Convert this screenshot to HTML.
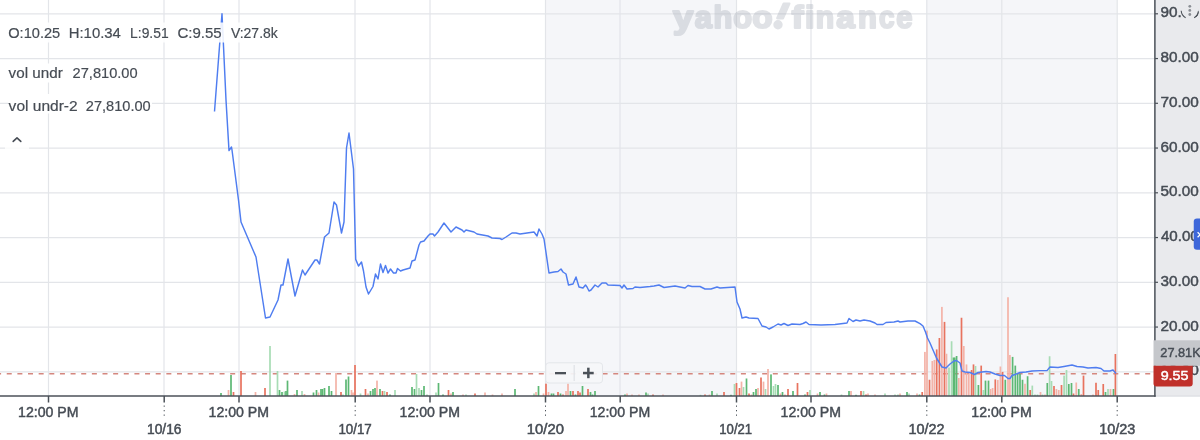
<!DOCTYPE html>
<html><head><meta charset="utf-8"><style>
html,body{margin:0;padding:0;width:1200px;height:440px;overflow:hidden;background:#fff;}
body{position:relative;font-family:"Liberation Sans",sans-serif;}
</style></head><body>
<svg width="1200" height="440" viewBox="0 0 1200 440" style="position:absolute;left:0;top:0;will-change:transform">
<rect x="545.5" y="0" width="191" height="396" fill="#f5f6f9"/>
<rect x="926.8" y="0" width="190.4" height="396" fill="#f5f6f9"/>
<line x1="0" y1="13.8" x2="1155" y2="13.8" stroke="#e3e5e9" stroke-width="1.2"/>
<line x1="0" y1="58.55" x2="1155" y2="58.55" stroke="#e3e5e9" stroke-width="1.2"/>
<line x1="0" y1="103.3" x2="1155" y2="103.3" stroke="#e3e5e9" stroke-width="1.2"/>
<line x1="0" y1="148.05" x2="1155" y2="148.05" stroke="#e3e5e9" stroke-width="1.2"/>
<line x1="0" y1="192.8" x2="1155" y2="192.8" stroke="#e3e5e9" stroke-width="1.2"/>
<line x1="0" y1="237.55" x2="1155" y2="237.55" stroke="#e3e5e9" stroke-width="1.2"/>
<line x1="0" y1="282.3" x2="1155" y2="282.3" stroke="#e3e5e9" stroke-width="1.2"/>
<line x1="0" y1="327.05" x2="1155" y2="327.05" stroke="#e3e5e9" stroke-width="1.2"/>
<line x1="0" y1="371.8" x2="1155" y2="371.8" stroke="#e3e5e9" stroke-width="1.2"/>
<line x1="48.5" y1="0" x2="48.5" y2="396" stroke="#e3e5e9" stroke-width="1.2"/>
<line x1="164" y1="0" x2="164" y2="396" stroke="#e3e5e9" stroke-width="1.2"/>
<line x1="239" y1="0" x2="239" y2="396" stroke="#e3e5e9" stroke-width="1.2"/>
<line x1="355" y1="0" x2="355" y2="396" stroke="#e3e5e9" stroke-width="1.2"/>
<line x1="430" y1="0" x2="430" y2="396" stroke="#e3e5e9" stroke-width="1.2"/>
<line x1="545.5" y1="0" x2="545.5" y2="396" stroke="#e3e5e9" stroke-width="1.2"/>
<line x1="620" y1="0" x2="620" y2="396" stroke="#e3e5e9" stroke-width="1.2"/>
<line x1="736.5" y1="0" x2="736.5" y2="396" stroke="#e3e5e9" stroke-width="1.2"/>
<line x1="811" y1="0" x2="811" y2="396" stroke="#e3e5e9" stroke-width="1.2"/>
<line x1="926.8" y1="0" x2="926.8" y2="396" stroke="#e3e5e9" stroke-width="1.2"/>
<line x1="1001.8" y1="0" x2="1001.8" y2="396" stroke="#e3e5e9" stroke-width="1.2"/>
<line x1="1117.2" y1="0" x2="1117.2" y2="396" stroke="#e3e5e9" stroke-width="1.2"/>
<g opacity="0.36" fill="#aab0ba" stroke="#aab0ba" stroke-width="2.2" stroke-linejoin="round" style="font-variant-ligatures:none">
<text x="673.04" y="27.70" font-family="Liberation Sans" font-weight="bold" font-size="31.5" fill="#aab0ba" textLength="20.29" lengthAdjust="spacingAndGlyphs" >y</text>
<text x="694.77" y="27.70" font-family="Liberation Sans" font-weight="bold" font-size="31.5" fill="#aab0ba" textLength="17.15" lengthAdjust="spacingAndGlyphs" >a</text>
<text x="713.54" y="27.70" font-family="Liberation Sans" font-weight="bold" font-size="31.5" fill="#aab0ba" textLength="18.83" lengthAdjust="spacingAndGlyphs" >h</text>
<text x="733.37" y="27.70" font-family="Liberation Sans" font-weight="bold" font-size="31.5" fill="#aab0ba" textLength="18.79" lengthAdjust="spacingAndGlyphs" >o</text>
<text x="752.37" y="27.70" font-family="Liberation Sans" font-weight="bold" font-size="31.5" fill="#aab0ba" textLength="20.29" lengthAdjust="spacingAndGlyphs" >o</text>
<text x="791.78" y="27.70" font-family="Liberation Sans" font-weight="bold" font-size="31.5" fill="#aab0ba" textLength="11.66" lengthAdjust="spacingAndGlyphs" >f</text>
<text x="805.10" y="27.70" font-family="Liberation Sans" font-weight="bold" font-size="31.5" fill="#aab0ba" textLength="9.52" lengthAdjust="spacingAndGlyphs" >i</text>
<text x="815.84" y="27.70" font-family="Liberation Sans" font-weight="bold" font-size="31.5" fill="#aab0ba" textLength="18.39" lengthAdjust="spacingAndGlyphs" >n</text>
<text x="836.30" y="27.70" font-family="Liberation Sans" font-weight="bold" font-size="31.5" fill="#aab0ba" textLength="18.50" lengthAdjust="spacingAndGlyphs" >a</text>
<text x="858.09" y="27.70" font-family="Liberation Sans" font-weight="bold" font-size="31.5" fill="#aab0ba" textLength="18.89" lengthAdjust="spacingAndGlyphs" >n</text>
<text x="878.99" y="27.70" font-family="Liberation Sans" font-weight="bold" font-size="31.5" fill="#aab0ba" textLength="15.48" lengthAdjust="spacingAndGlyphs" >c</text>
<text x="896.23" y="27.70" font-family="Liberation Sans" font-weight="bold" font-size="31.5" fill="#aab0ba" textLength="16.22" lengthAdjust="spacingAndGlyphs" >e</text>
<path d="M783.6,3.6 L789.4,3.6 L783,18.3 L777.2,18.3 Z"/>
<circle cx="778" cy="24.7" r="3.6"/>
</g>
<line x1="-3.9" y1="373.75" x2="1155" y2="373.75" stroke="#d5877f" stroke-width="1.5" stroke-dasharray="5 5.64"/>
<rect x="220.15" y="393.00" width="1.7" height="3.00" fill="#5db874"/>
<rect x="227.65" y="390.00" width="1.7" height="6.00" fill="#f4b3a8"/>
<rect x="230.15" y="375.00" width="1.7" height="21.00" fill="#5db874"/>
<rect x="232.65" y="392.00" width="1.7" height="4.00" fill="#e8735f"/>
<rect x="240.15" y="371.00" width="1.7" height="25.00" fill="#e8735f"/>
<rect x="254.65" y="392.00" width="1.7" height="4.00" fill="#f4b3a8"/>
<rect x="264.15" y="388.00" width="1.7" height="8.00" fill="#e8735f"/>
<rect x="269.15" y="346.00" width="1.7" height="50.00" fill="#a8dcb5"/>
<rect x="276.65" y="371.00" width="1.7" height="25.00" fill="#a8dcb5"/>
<rect x="278.65" y="390.00" width="1.7" height="6.00" fill="#5db874"/>
<rect x="281.15" y="392.00" width="1.7" height="4.00" fill="#5db874"/>
<rect x="283.65" y="391.50" width="1.7" height="4.50" fill="#a8dcb5"/>
<rect x="285.15" y="391.00" width="1.7" height="5.00" fill="#5db874"/>
<rect x="286.65" y="380.60" width="1.7" height="15.40" fill="#5db874"/>
<rect x="293.65" y="394.00" width="1.7" height="2.00" fill="#f4b3a8"/>
<rect x="296.15" y="390.00" width="1.7" height="6.00" fill="#5db874"/>
<rect x="301.15" y="391.00" width="1.7" height="5.00" fill="#a8dcb5"/>
<rect x="303.65" y="394.00" width="1.7" height="2.00" fill="#f4b3a8"/>
<rect x="312.65" y="392.50" width="1.7" height="3.50" fill="#5db874"/>
<rect x="315.65" y="390.00" width="1.7" height="6.00" fill="#5db874"/>
<rect x="317.65" y="392.50" width="1.7" height="3.50" fill="#f4b3a8"/>
<rect x="320.15" y="389.00" width="1.7" height="7.00" fill="#5db874"/>
<rect x="321.65" y="389.00" width="1.7" height="7.00" fill="#5db874"/>
<rect x="323.65" y="388.00" width="1.7" height="8.00" fill="#5db874"/>
<rect x="328.15" y="386.00" width="1.7" height="10.00" fill="#5db874"/>
<rect x="330.65" y="391.00" width="1.7" height="5.00" fill="#5db874"/>
<rect x="335.15" y="373.00" width="1.7" height="23.00" fill="#f4b3a8"/>
<rect x="340.15" y="392.00" width="1.7" height="4.00" fill="#e8735f"/>
<rect x="342.15" y="394.50" width="1.7" height="1.50" fill="#a8dcb5"/>
<rect x="345.15" y="379.50" width="1.7" height="16.50" fill="#5db874"/>
<rect x="347.65" y="376.50" width="1.7" height="19.50" fill="#5db874"/>
<rect x="350.65" y="390.00" width="1.7" height="6.00" fill="#f4b3a8"/>
<rect x="352.15" y="392.50" width="1.7" height="3.50" fill="#f4b3a8"/>
<rect x="354.15" y="365.00" width="1.7" height="31.00" fill="#e8735f"/>
<rect x="359.65" y="393.50" width="1.7" height="2.50" fill="#a8dcb5"/>
<rect x="364.65" y="389.00" width="1.7" height="7.00" fill="#e8735f"/>
<rect x="367.15" y="393.50" width="1.7" height="2.50" fill="#f4b3a8"/>
<rect x="369.65" y="391.00" width="1.7" height="5.00" fill="#5db874"/>
<rect x="372.15" y="389.00" width="1.7" height="7.00" fill="#5db874"/>
<rect x="374.15" y="388.00" width="1.7" height="8.00" fill="#5db874"/>
<rect x="376.15" y="380.60" width="1.7" height="15.40" fill="#f4b3a8"/>
<rect x="379.15" y="389.00" width="1.7" height="7.00" fill="#5db874"/>
<rect x="381.65" y="391.00" width="1.7" height="5.00" fill="#e8735f"/>
<rect x="383.65" y="391.00" width="1.7" height="5.00" fill="#a8dcb5"/>
<rect x="386.15" y="392.00" width="1.7" height="4.00" fill="#e8735f"/>
<rect x="389.15" y="394.50" width="1.7" height="1.50" fill="#5db874"/>
<rect x="394.15" y="390.00" width="1.7" height="6.00" fill="#a8dcb5"/>
<rect x="411.15" y="387.00" width="1.7" height="9.00" fill="#5db874"/>
<rect x="413.65" y="389.00" width="1.7" height="7.00" fill="#5db874"/>
<rect x="415.65" y="374.00" width="1.7" height="22.00" fill="#a8dcb5"/>
<rect x="418.15" y="388.00" width="1.7" height="8.00" fill="#a8dcb5"/>
<rect x="420.65" y="390.00" width="1.7" height="6.00" fill="#5db874"/>
<rect x="423.15" y="386.00" width="1.7" height="10.00" fill="#5db874"/>
<rect x="426.15" y="394.50" width="1.7" height="1.50" fill="#a8dcb5"/>
<rect x="435.15" y="392.50" width="1.7" height="3.50" fill="#a8dcb5"/>
<rect x="437.65" y="383.00" width="1.7" height="13.00" fill="#5db874"/>
<rect x="442.15" y="394.50" width="1.7" height="1.50" fill="#5db874"/>
<rect x="447.65" y="390.00" width="1.7" height="6.00" fill="#e8735f"/>
<rect x="450.15" y="393.50" width="1.7" height="2.50" fill="#f4b3a8"/>
<rect x="452.15" y="392.00" width="1.7" height="4.00" fill="#5db874"/>
<rect x="462.15" y="394.50" width="1.7" height="1.50" fill="#f4b3a8"/>
<rect x="465.15" y="394.50" width="1.7" height="1.50" fill="#a8dcb5"/>
<rect x="474.15" y="393.50" width="1.7" height="2.50" fill="#e8735f"/>
<rect x="484.15" y="392.50" width="1.7" height="3.50" fill="#f4b3a8"/>
<rect x="491.65" y="394.50" width="1.7" height="1.50" fill="#f4b3a8"/>
<rect x="501.15" y="393.50" width="1.7" height="2.50" fill="#f4b3a8"/>
<rect x="514.15" y="389.00" width="1.7" height="7.00" fill="#5db874"/>
<rect x="533.15" y="393.50" width="1.7" height="2.50" fill="#a8dcb5"/>
<rect x="535.15" y="392.00" width="1.7" height="4.00" fill="#f4b3a8"/>
<rect x="537.65" y="386.00" width="1.7" height="10.00" fill="#5db874"/>
<rect x="542.65" y="393.50" width="1.7" height="2.50" fill="#f4b3a8"/>
<rect x="545.15" y="383.70" width="1.7" height="12.30" fill="#e8735f"/>
<rect x="547.65" y="392.00" width="1.7" height="4.00" fill="#f4b3a8"/>
<rect x="550.65" y="393.50" width="1.7" height="2.50" fill="#5db874"/>
<rect x="552.65" y="393.50" width="1.7" height="2.50" fill="#5db874"/>
<rect x="557.15" y="392.00" width="1.7" height="4.00" fill="#e8735f"/>
<rect x="559.65" y="393.50" width="1.7" height="2.50" fill="#5db874"/>
<rect x="562.15" y="394.50" width="1.7" height="1.50" fill="#e8735f"/>
<rect x="565.15" y="391.00" width="1.7" height="5.00" fill="#f4b3a8"/>
<rect x="567.15" y="383.70" width="1.7" height="12.30" fill="#f4b3a8"/>
<rect x="569.65" y="391.00" width="1.7" height="5.00" fill="#5db874"/>
<rect x="572.15" y="391.00" width="1.7" height="5.00" fill="#e8735f"/>
<rect x="574.65" y="394.50" width="1.7" height="1.50" fill="#5db874"/>
<rect x="577.15" y="391.00" width="1.7" height="5.00" fill="#e8735f"/>
<rect x="579.15" y="392.50" width="1.7" height="3.50" fill="#e8735f"/>
<rect x="581.65" y="386.00" width="1.7" height="10.00" fill="#5db874"/>
<rect x="587.15" y="389.00" width="1.7" height="7.00" fill="#e8735f"/>
<rect x="589.65" y="392.00" width="1.7" height="4.00" fill="#5db874"/>
<rect x="591.65" y="394.50" width="1.7" height="1.50" fill="#5db874"/>
<rect x="594.15" y="391.00" width="1.7" height="5.00" fill="#5db874"/>
<rect x="624.15" y="394.50" width="1.7" height="1.50" fill="#5db874"/>
<rect x="626.15" y="393.50" width="1.7" height="2.50" fill="#f4b3a8"/>
<rect x="631.15" y="394.50" width="1.7" height="1.50" fill="#f4b3a8"/>
<rect x="638.15" y="394.50" width="1.7" height="1.50" fill="#f4b3a8"/>
<rect x="645.15" y="392.50" width="1.7" height="3.50" fill="#5db874"/>
<rect x="647.15" y="393.50" width="1.7" height="2.50" fill="#a8dcb5"/>
<rect x="652.15" y="394.50" width="1.7" height="1.50" fill="#e8735f"/>
<rect x="662.15" y="394.50" width="1.7" height="1.50" fill="#f4b3a8"/>
<rect x="699.65" y="394.80" width="1.7" height="1.20" fill="#a8dcb5"/>
<rect x="704.15" y="394.50" width="1.7" height="1.50" fill="#e8735f"/>
<rect x="708.65" y="394.50" width="1.7" height="1.50" fill="#f4b3a8"/>
<rect x="711.15" y="391.00" width="1.7" height="5.00" fill="#5db874"/>
<rect x="716.15" y="393.50" width="1.7" height="2.50" fill="#a8dcb5"/>
<rect x="723.15" y="392.00" width="1.7" height="4.00" fill="#e8735f"/>
<rect x="730.15" y="394.80" width="1.7" height="1.20" fill="#5db874"/>
<rect x="733.65" y="384.00" width="1.7" height="12.00" fill="#a8dcb5"/>
<rect x="735.65" y="383.00" width="1.7" height="13.00" fill="#e8735f"/>
<rect x="738.65" y="388.00" width="1.7" height="8.00" fill="#e8735f"/>
<rect x="740.65" y="381.60" width="1.7" height="14.40" fill="#f4b3a8"/>
<rect x="742.65" y="387.00" width="1.7" height="9.00" fill="#a8dcb5"/>
<rect x="745.65" y="378.50" width="1.7" height="17.50" fill="#5db874"/>
<rect x="748.15" y="393.50" width="1.7" height="2.50" fill="#e8735f"/>
<rect x="750.65" y="394.50" width="1.7" height="1.50" fill="#f4b3a8"/>
<rect x="752.65" y="392.00" width="1.7" height="4.00" fill="#5db874"/>
<rect x="755.15" y="389.00" width="1.7" height="7.00" fill="#5db874"/>
<rect x="757.15" y="388.00" width="1.7" height="8.00" fill="#f4b3a8"/>
<rect x="760.15" y="377.50" width="1.7" height="18.50" fill="#e8735f"/>
<rect x="762.65" y="381.60" width="1.7" height="14.40" fill="#f4b3a8"/>
<rect x="764.65" y="389.00" width="1.7" height="7.00" fill="#a8dcb5"/>
<rect x="767.15" y="369.00" width="1.7" height="27.00" fill="#f4b3a8"/>
<rect x="770.15" y="374.40" width="1.7" height="21.60" fill="#5db874"/>
<rect x="772.65" y="386.00" width="1.7" height="10.00" fill="#a8dcb5"/>
<rect x="774.65" y="384.00" width="1.7" height="12.00" fill="#a8dcb5"/>
<rect x="777.15" y="385.00" width="1.7" height="11.00" fill="#5db874"/>
<rect x="779.65" y="393.50" width="1.7" height="2.50" fill="#f4b3a8"/>
<rect x="781.65" y="392.00" width="1.7" height="4.00" fill="#5db874"/>
<rect x="784.15" y="394.50" width="1.7" height="1.50" fill="#f4b3a8"/>
<rect x="787.15" y="389.00" width="1.7" height="7.00" fill="#e8735f"/>
<rect x="792.15" y="391.00" width="1.7" height="5.00" fill="#5db874"/>
<rect x="796.65" y="383.00" width="1.7" height="13.00" fill="#e8735f"/>
<rect x="804.15" y="394.50" width="1.7" height="1.50" fill="#5db874"/>
<rect x="806.65" y="392.00" width="1.7" height="4.00" fill="#e8735f"/>
<rect x="809.15" y="390.00" width="1.7" height="6.00" fill="#a8dcb5"/>
<rect x="816.65" y="393.50" width="1.7" height="2.50" fill="#f4b3a8"/>
<rect x="819.15" y="392.00" width="1.7" height="4.00" fill="#5db874"/>
<rect x="823.65" y="394.50" width="1.7" height="1.50" fill="#5db874"/>
<rect x="825.65" y="393.50" width="1.7" height="2.50" fill="#f4b3a8"/>
<rect x="840.65" y="394.50" width="1.7" height="1.50" fill="#a8dcb5"/>
<rect x="848.15" y="391.00" width="1.7" height="5.00" fill="#5db874"/>
<rect x="850.15" y="391.00" width="1.7" height="5.00" fill="#f4b3a8"/>
<rect x="855.15" y="394.80" width="1.7" height="1.20" fill="#5db874"/>
<rect x="860.15" y="391.00" width="1.7" height="5.00" fill="#e8735f"/>
<rect x="862.65" y="391.00" width="1.7" height="5.00" fill="#a8dcb5"/>
<rect x="865.15" y="394.50" width="1.7" height="1.50" fill="#e8735f"/>
<rect x="867.15" y="393.50" width="1.7" height="2.50" fill="#f4b3a8"/>
<rect x="874.15" y="394.50" width="1.7" height="1.50" fill="#f4b3a8"/>
<rect x="884.15" y="393.50" width="1.7" height="2.50" fill="#a8dcb5"/>
<rect x="894.15" y="394.50" width="1.7" height="1.50" fill="#a8dcb5"/>
<rect x="897.15" y="394.50" width="1.7" height="1.50" fill="#a8dcb5"/>
<rect x="899.15" y="393.50" width="1.7" height="2.50" fill="#f4b3a8"/>
<rect x="906.15" y="392.00" width="1.7" height="4.00" fill="#5db874"/>
<rect x="908.15" y="393.50" width="1.7" height="2.50" fill="#a8dcb5"/>
<rect x="916.15" y="393.50" width="1.7" height="2.50" fill="#f4b3a8"/>
<rect x="918.65" y="394.50" width="1.7" height="1.50" fill="#5db874"/>
<rect x="921.35" y="392.00" width="1.7" height="4.00" fill="#e8735f"/>
<rect x="924.05" y="351.90" width="1.7" height="44.10" fill="#f4b3a8"/>
<rect x="926.15" y="330.60" width="1.7" height="65.40" fill="#f4b3a8"/>
<rect x="928.65" y="379.75" width="1.7" height="16.25" fill="#e8735f"/>
<rect x="931.45" y="361.00" width="1.7" height="35.00" fill="#f4b3a8"/>
<rect x="933.55" y="360.00" width="1.7" height="36.00" fill="#f4b3a8"/>
<rect x="935.85" y="349.40" width="1.7" height="46.60" fill="#e8735f"/>
<rect x="938.55" y="338.00" width="1.7" height="58.00" fill="#e8735f"/>
<rect x="941.05" y="306.90" width="1.7" height="89.10" fill="#f4b3a8"/>
<rect x="943.65" y="321.90" width="1.7" height="74.10" fill="#e8735f"/>
<rect x="945.65" y="353.75" width="1.7" height="42.25" fill="#f4b3a8"/>
<rect x="948.15" y="367.50" width="1.7" height="28.50" fill="#a8dcb5"/>
<rect x="950.75" y="341.25" width="1.7" height="54.75" fill="#a8dcb5"/>
<rect x="952.65" y="357.50" width="1.7" height="38.50" fill="#5db874"/>
<rect x="953.85" y="357.50" width="1.7" height="38.50" fill="#5db874"/>
<rect x="955.75" y="356.00" width="1.7" height="40.00" fill="#5db874"/>
<rect x="957.95" y="378.00" width="1.7" height="18.00" fill="#f4b3a8"/>
<rect x="960.65" y="317.75" width="1.7" height="78.25" fill="#e8735f"/>
<rect x="962.95" y="346.00" width="1.7" height="50.00" fill="#f4b3a8"/>
<rect x="965.65" y="364.40" width="1.7" height="31.60" fill="#f4b3a8"/>
<rect x="967.95" y="373.75" width="1.7" height="22.25" fill="#f4b3a8"/>
<rect x="970.75" y="370.00" width="1.7" height="26.00" fill="#e8735f"/>
<rect x="972.65" y="364.40" width="1.7" height="31.60" fill="#e8735f"/>
<rect x="974.65" y="366.00" width="1.7" height="30.00" fill="#a8dcb5"/>
<rect x="977.55" y="385.00" width="1.7" height="11.00" fill="#5db874"/>
<rect x="980.35" y="365.60" width="1.7" height="30.40" fill="#e8735f"/>
<rect x="982.55" y="390.00" width="1.7" height="6.00" fill="#a8dcb5"/>
<rect x="984.65" y="380.60" width="1.7" height="15.40" fill="#5db874"/>
<rect x="987.65" y="380.60" width="1.7" height="15.40" fill="#5db874"/>
<rect x="989.75" y="389.00" width="1.7" height="7.00" fill="#f4b3a8"/>
<rect x="991.75" y="388.00" width="1.7" height="8.00" fill="#f4b3a8"/>
<rect x="994.45" y="379.40" width="1.7" height="16.60" fill="#e8735f"/>
<rect x="996.95" y="380.00" width="1.7" height="16.00" fill="#f4b3a8"/>
<rect x="999.55" y="366.50" width="1.7" height="29.50" fill="#f4b3a8"/>
<rect x="1001.75" y="371.90" width="1.7" height="24.10" fill="#e8735f"/>
<rect x="1004.45" y="379.75" width="1.7" height="16.25" fill="#5db874"/>
<rect x="1007.15" y="297.25" width="1.7" height="98.75" fill="#f4b3a8"/>
<rect x="1009.05" y="355.00" width="1.7" height="41.00" fill="#f4b3a8"/>
<rect x="1011.75" y="356.90" width="1.7" height="39.10" fill="#5db874"/>
<rect x="1014.45" y="365.60" width="1.7" height="30.40" fill="#5db874"/>
<rect x="1016.75" y="373.75" width="1.7" height="22.25" fill="#5db874"/>
<rect x="1019.15" y="373.75" width="1.7" height="22.25" fill="#5db874"/>
<rect x="1021.65" y="379.75" width="1.7" height="16.25" fill="#5db874"/>
<rect x="1024.15" y="383.75" width="1.7" height="12.25" fill="#f4b3a8"/>
<rect x="1026.75" y="376.25" width="1.7" height="19.75" fill="#5db874"/>
<rect x="1029.35" y="390.00" width="1.7" height="6.00" fill="#e8735f"/>
<rect x="1031.45" y="385.60" width="1.7" height="10.40" fill="#a8dcb5"/>
<rect x="1034.15" y="394.50" width="1.7" height="1.50" fill="#a8dcb5"/>
<rect x="1036.65" y="394.50" width="1.7" height="1.50" fill="#a8dcb5"/>
<rect x="1039.65" y="392.00" width="1.7" height="4.00" fill="#f4b3a8"/>
<rect x="1041.65" y="394.50" width="1.7" height="1.50" fill="#a8dcb5"/>
<rect x="1044.15" y="394.50" width="1.7" height="1.50" fill="#f4b3a8"/>
<rect x="1046.45" y="383.00" width="1.7" height="13.00" fill="#5db874"/>
<rect x="1048.75" y="356.25" width="1.7" height="39.75" fill="#a8dcb5"/>
<rect x="1050.65" y="381.00" width="1.7" height="15.00" fill="#a8dcb5"/>
<rect x="1053.15" y="386.00" width="1.7" height="10.00" fill="#e8735f"/>
<rect x="1055.55" y="389.00" width="1.7" height="7.00" fill="#f4b3a8"/>
<rect x="1057.90" y="390.00" width="1.7" height="6.00" fill="#f4b3a8"/>
<rect x="1060.65" y="385.00" width="1.7" height="11.00" fill="#e8735f"/>
<rect x="1063.25" y="375.60" width="1.7" height="20.40" fill="#a8dcb5"/>
<rect x="1065.65" y="370.00" width="1.7" height="26.00" fill="#a8dcb5"/>
<rect x="1067.95" y="384.00" width="1.7" height="12.00" fill="#5db874"/>
<rect x="1070.65" y="383.00" width="1.7" height="13.00" fill="#5db874"/>
<rect x="1072.65" y="393.50" width="1.7" height="2.50" fill="#e8735f"/>
<rect x="1075.40" y="382.50" width="1.7" height="13.50" fill="#f4b3a8"/>
<rect x="1077.90" y="389.00" width="1.7" height="7.00" fill="#5db874"/>
<rect x="1080.45" y="394.00" width="1.7" height="2.00" fill="#f4b3a8"/>
<rect x="1082.65" y="375.60" width="1.7" height="20.40" fill="#e8735f"/>
<rect x="1092.15" y="394.50" width="1.7" height="1.50" fill="#f4b3a8"/>
<rect x="1095.15" y="382.75" width="1.7" height="13.25" fill="#e8735f"/>
<rect x="1097.40" y="390.00" width="1.7" height="6.00" fill="#e8735f"/>
<rect x="1102.40" y="384.00" width="1.7" height="12.00" fill="#e8735f"/>
<rect x="1104.65" y="392.00" width="1.7" height="4.00" fill="#5db874"/>
<rect x="1107.15" y="389.00" width="1.7" height="7.00" fill="#a8dcb5"/>
<rect x="1109.65" y="389.00" width="1.7" height="7.00" fill="#f4b3a8"/>
<rect x="1112.65" y="389.00" width="1.7" height="7.00" fill="#5db874"/>
<rect x="1114.55" y="354.00" width="1.7" height="42.00" fill="#e8735f"/>
<path d="M214.5,111.5 L222,13.8 L226,100 L229,150.6 L231.5,147 L232,150 L238.5,200 L241,222 L256,257 L265.5,318 L270,317 L278,300 L281,285 L283,285 L288,259 L295,296 L302.5,270 L305,275 L315,260 L317,260 L319.5,264 L324.5,237 L329,233 L334,202 L336.5,205 L341.5,233 L344,222 L346.5,148 L349,133 L353.5,169 L355.7,259.4 L358.5,266 L361.5,262 L363.5,271 L366,287 L368.5,294 L373,286.5 L375.5,274 L378,279 L380.5,264 L383,272.5 L385.5,265.5 L388,273 L390.5,269 L393.5,273 L396,273 L397.5,268.5 L400.5,271 L403,270 L410,268 L412,261 L415,260 L419,245 L420.5,242 L424,241 L428,236 L430,234 L433,234 L434.5,236 L438,232 L444,223 L451,232 L456,227 L462,230 L464,232 L466,230 L474,232 L477,234 L488,236 L492,238 L500,238.5 L502,239.5 L506,237 L512,233 L516,233 L520,234 L534,232 L537,236 L539,229 L542,234 L544,239 L549,273 L554,272 L558,271.5 L561,269 L563,272 L566,274 L568.5,285 L573,284 L576,277 L579,287 L583,288 L585.5,285 L587,287 L589,291 L591,290 L595,285 L598,287 L602,283 L606,283 L608,285 L620,285.5 L622,288 L624,285 L627,289 L633,288.5 L635,287 L640,287.5 L650,286.5 L654,286 L659,285 L664,287.5 L675,286 L685,288 L688,285.5 L692,286.5 L700,286.5 L705,289 L711,289 L717,287 L720,288 L735,287 L737,302 L740,309 L742,318 L746,317 L749,318 L758,318.5 L762,326 L766,327 L769,329 L773,327 L778,324 L781,325 L784,323.5 L788,325.5 L792,324 L800,324.5 L803,323.5 L806,322 L809,324.5 L821,325 L835,324.5 L847,323 L849,318.5 L853,321.5 L856,320 L860,321 L864,320 L870,321 L875,323 L877,324.5 L883,324.5 L886,322.5 L894,322 L898,321 L900,322 L908,321 L915,321 L920,323.6 L923,326 L925.5,332 L927.5,338 L930,343 L933,350 L936.5,358 L942,367 L946,368 L950,364 L954,361 L956.5,360.5 L960,363 L962,371 L965,372 L970,372.5 L974.5,374.5 L978,372.5 L986,371.5 L990,372 L995,374 L1000,375.5 L1004.5,375.5 L1008,378.5 L1010,378.5 L1012,375.5 L1015,374.5 L1020,372.5 L1026,372 L1032,371 L1040,370.6 L1047,370.6 L1050,367 L1058,367.5 L1064,366.5 L1072,365 L1077,366.5 L1083,367 L1088,368 L1096,367.5 L1101,368.5 L1104,371 L1110,371 L1113,370 L1116,373.5" fill="none" stroke="#4f7df0" stroke-width="1.45" stroke-linejoin="round"/>
<rect x="545.8" y="362.8" width="56.7" height="20.2" rx="3" fill="#f5f6f9" fill-opacity="0.92" stroke="#e2e4e8" stroke-width="0.9"/>
<rect x="555" y="372" width="11" height="2.3" fill="#4b5158"/>
<rect x="583" y="371.8" width="10.7" height="2.5" fill="#4b5158"/>
<rect x="587.1" y="367.7" width="2.5" height="10.5" fill="#4b5158"/>
<rect x="573.6" y="365" width="1.2" height="16" fill="#dfe2e7"/>
<rect x="1154.5" y="0" width="45.5" height="396" fill="#e9eaed"/>
<rect x="1155" y="395.6" width="45" height="1" fill="#d6d9de"/>
<line x1="1154.9" y1="0" x2="1154.9" y2="396.8" stroke="#4b5158" stroke-width="1.5"/>
<line x1="0" y1="396" x2="1155.6" y2="396" stroke="#4b5158" stroke-width="1.5"/>
<line x1="1155" y1="13.8" x2="1158" y2="13.8" stroke="#4b5158" stroke-width="1.2"/>
<text x="1160.51" y="17.30" font-family="Liberation Sans" font-weight="normal" font-size="14.2" fill="#464c54" textLength="38.26" lengthAdjust="spacingAndGlyphs" stroke="#464c54" stroke-width="0.45">90.00</text>
<line x1="1155" y1="58.55" x2="1158" y2="58.55" stroke="#4b5158" stroke-width="1.2"/>
<text x="1160.51" y="62.05" font-family="Liberation Sans" font-weight="normal" font-size="14.2" fill="#464c54" textLength="38.26" lengthAdjust="spacingAndGlyphs" stroke="#464c54" stroke-width="0.45">80.00</text>
<line x1="1155" y1="103.3" x2="1158" y2="103.3" stroke="#4b5158" stroke-width="1.2"/>
<text x="1160.43" y="106.80" font-family="Liberation Sans" font-weight="normal" font-size="14.2" fill="#464c54" textLength="38.34" lengthAdjust="spacingAndGlyphs" stroke="#464c54" stroke-width="0.45">70.00</text>
<line x1="1155" y1="148.05" x2="1158" y2="148.05" stroke="#4b5158" stroke-width="1.2"/>
<text x="1160.43" y="151.55" font-family="Liberation Sans" font-weight="normal" font-size="14.2" fill="#464c54" textLength="38.34" lengthAdjust="spacingAndGlyphs" stroke="#464c54" stroke-width="0.45">60.00</text>
<line x1="1155" y1="192.8" x2="1158" y2="192.8" stroke="#4b5158" stroke-width="1.2"/>
<text x="1160.59" y="196.30" font-family="Liberation Sans" font-weight="normal" font-size="14.2" fill="#464c54" textLength="38.18" lengthAdjust="spacingAndGlyphs" stroke="#464c54" stroke-width="0.45">50.00</text>
<line x1="1155" y1="237.55" x2="1158" y2="237.55" stroke="#4b5158" stroke-width="1.2"/>
<text x="1160.90" y="241.05" font-family="Liberation Sans" font-weight="normal" font-size="14.2" fill="#464c54" textLength="37.87" lengthAdjust="spacingAndGlyphs" stroke="#464c54" stroke-width="0.45">40.00</text>
<line x1="1155" y1="282.3" x2="1158" y2="282.3" stroke="#4b5158" stroke-width="1.2"/>
<text x="1160.59" y="285.80" font-family="Liberation Sans" font-weight="normal" font-size="14.2" fill="#464c54" textLength="38.18" lengthAdjust="spacingAndGlyphs" stroke="#464c54" stroke-width="0.45">30.00</text>
<line x1="1155" y1="327.05" x2="1158" y2="327.05" stroke="#4b5158" stroke-width="1.2"/>
<text x="1160.43" y="330.55" font-family="Liberation Sans" font-weight="normal" font-size="14.2" fill="#464c54" textLength="38.34" lengthAdjust="spacingAndGlyphs" stroke="#464c54" stroke-width="0.45">20.00</text>
<line x1="1155" y1="371.8" x2="1158" y2="371.8" stroke="#4b5158" stroke-width="1.2"/>
<text x="1160.04" y="375.30" font-family="Liberation Sans" font-weight="normal" font-size="14.2" fill="#464c54" textLength="38.74" lengthAdjust="spacingAndGlyphs" stroke="#464c54" stroke-width="0.45">10.00</text>
<line x1="48.5" y1="396" x2="48.5" y2="402.5" stroke="#4b5158" stroke-width="1.5"/>
<text x="18.04" y="416.60" font-family="Liberation Sans" font-weight="normal" font-size="14.3" fill="#464c54" textLength="60.47" lengthAdjust="spacingAndGlyphs" stroke="#464c54" stroke-width="0.45">12:00 PM</text>
<line x1="239" y1="396" x2="239" y2="402.5" stroke="#4b5158" stroke-width="1.5"/>
<text x="208.54" y="416.60" font-family="Liberation Sans" font-weight="normal" font-size="14.3" fill="#464c54" textLength="60.47" lengthAdjust="spacingAndGlyphs" stroke="#464c54" stroke-width="0.45">12:00 PM</text>
<line x1="430" y1="396" x2="430" y2="402.5" stroke="#4b5158" stroke-width="1.5"/>
<text x="399.54" y="416.60" font-family="Liberation Sans" font-weight="normal" font-size="14.3" fill="#464c54" textLength="60.47" lengthAdjust="spacingAndGlyphs" stroke="#464c54" stroke-width="0.45">12:00 PM</text>
<line x1="620.2" y1="396" x2="620.2" y2="402.5" stroke="#4b5158" stroke-width="1.5"/>
<text x="589.74" y="416.60" font-family="Liberation Sans" font-weight="normal" font-size="14.3" fill="#464c54" textLength="60.47" lengthAdjust="spacingAndGlyphs" stroke="#464c54" stroke-width="0.45">12:00 PM</text>
<line x1="811" y1="396" x2="811" y2="402.5" stroke="#4b5158" stroke-width="1.5"/>
<text x="780.54" y="416.60" font-family="Liberation Sans" font-weight="normal" font-size="14.3" fill="#464c54" textLength="60.47" lengthAdjust="spacingAndGlyphs" stroke="#464c54" stroke-width="0.45">12:00 PM</text>
<line x1="1001.8" y1="396" x2="1001.8" y2="402.5" stroke="#4b5158" stroke-width="1.5"/>
<text x="971.34" y="416.60" font-family="Liberation Sans" font-weight="normal" font-size="14.3" fill="#464c54" textLength="60.47" lengthAdjust="spacingAndGlyphs" stroke="#464c54" stroke-width="0.45">12:00 PM</text>
<line x1="164.2" y1="396" x2="164.2" y2="402.5" stroke="#4b5158" stroke-width="1.5"/>
<line x1="164.2" y1="405.5" x2="164.2" y2="417" stroke="#4b5158" stroke-width="1" stroke-dasharray="1.3 3.2"/>
<text x="146.97" y="433.60" font-family="Liberation Sans" font-weight="normal" font-size="13.9" fill="#464c54" textLength="34.52" lengthAdjust="spacingAndGlyphs" stroke="#464c54" stroke-width="0.5">10/16</text>
<line x1="355.2" y1="396" x2="355.2" y2="402.5" stroke="#4b5158" stroke-width="1.5"/>
<line x1="355.2" y1="405.5" x2="355.2" y2="417" stroke="#4b5158" stroke-width="1" stroke-dasharray="1.3 3.2"/>
<text x="338.40" y="433.60" font-family="Liberation Sans" font-weight="normal" font-size="13.9" fill="#464c54" textLength="33.40" lengthAdjust="spacingAndGlyphs" stroke="#464c54" stroke-width="0.5">10/17</text>
<line x1="545.5" y1="396" x2="545.5" y2="402.5" stroke="#4b5158" stroke-width="1.5"/>
<line x1="545.5" y1="405.5" x2="545.5" y2="417" stroke="#4b5158" stroke-width="1" stroke-dasharray="1.3 3.2"/>
<text x="526.89" y="433.60" font-family="Liberation Sans" font-weight="normal" font-size="13.9" fill="#464c54" textLength="37.07" lengthAdjust="spacingAndGlyphs" stroke="#464c54" stroke-width="0.5">10/20</text>
<line x1="736.5" y1="396" x2="736.5" y2="402.5" stroke="#4b5158" stroke-width="1.5"/>
<line x1="736.5" y1="405.5" x2="736.5" y2="417" stroke="#4b5158" stroke-width="1" stroke-dasharray="1.3 3.2"/>
<text x="719.32" y="433.60" font-family="Liberation Sans" font-weight="normal" font-size="13.9" fill="#464c54" textLength="32.81" lengthAdjust="spacingAndGlyphs" stroke="#464c54" stroke-width="0.5">10/21</text>
<line x1="926.8" y1="396" x2="926.8" y2="402.5" stroke="#4b5158" stroke-width="1.5"/>
<line x1="926.8" y1="405.5" x2="926.8" y2="417" stroke="#4b5158" stroke-width="1" stroke-dasharray="1.3 3.2"/>
<text x="908.52" y="433.60" font-family="Liberation Sans" font-weight="normal" font-size="13.9" fill="#464c54" textLength="36.04" lengthAdjust="spacingAndGlyphs" stroke="#464c54" stroke-width="0.5">10/22</text>
<line x1="1117.2" y1="396" x2="1117.2" y2="402.5" stroke="#4b5158" stroke-width="1.5"/>
<line x1="1117.2" y1="405.5" x2="1117.2" y2="417" stroke="#4b5158" stroke-width="1" stroke-dasharray="1.3 3.2"/>
<text x="1099.22" y="433.60" font-family="Liberation Sans" font-weight="normal" font-size="13.9" fill="#464c54" textLength="36.09" lengthAdjust="spacingAndGlyphs" stroke="#464c54" stroke-width="0.5">10/23</text>
<rect x="1153.5" y="340.3" width="50" height="25.5" fill="#c5c7cb"/>
<text x="1160.36" y="357.20" font-family="Liberation Sans" font-weight="normal" font-size="13.6" fill="#464c54" textLength="40.26" lengthAdjust="spacingAndGlyphs" stroke="#464c54" stroke-width="0.45">27.81K</text>
<path d="M1153.5,365.8 H1192.7 V383.5 Q1192.7,386.5 1189.7,386.5 H1156.5 Q1153.5,386.5 1153.5,383.5 Z" fill="#c0302a"/>
<text x="1160.65" y="380.00" font-family="Liberation Sans" font-weight="normal" font-size="13.6" fill="#ffffff" textLength="27.94" lengthAdjust="spacingAndGlyphs" stroke="#ffffff" stroke-width="0.45">9.55</text>
<path d="M1200,218.5 H1197 Q1193.75,218.5 1193.75,221.5 V246.8 Q1193.75,249.8 1197,249.8 H1200 Z" fill="#3d67da"/>
<path d="M1197.6,232.2 L1202.6,237.2 M1197.6,237.2 L1202.6,232.2" stroke="#ffffff" stroke-width="1.3"/>
<circle cx="1189.8" cy="10.2" r="8.6" fill="#e9eaed"/>
<path d="M1181.2,10.8 A8.6,8.6 0 0 0 1185.6,17.8" fill="none" stroke="#4b5158" stroke-width="1.1"/>
<path d="M1194.2,17.8 A8.6,8.6 0 0 0 1198.4,11.4" fill="none" stroke="#4b5158" stroke-width="1.1"/>
<circle cx="1189.8" cy="6.3" r="1.4" fill="#8a8e94"/>
<circle cx="1189.8" cy="10.4" r="1.4" fill="#8a8e94"/>
<circle cx="1189.8" cy="14.5" r="1.4" fill="#8a8e94"/>
<rect x="8" y="22.5" width="275" height="20" fill="#ffffff" fill-opacity="0.88"/>
<rect x="8" y="63.5" width="135" height="19" fill="#ffffff" fill-opacity="0.97"/>
<rect x="8" y="94" width="144" height="19.5" fill="#ffffff" fill-opacity="0.97"/>
<rect x="5" y="128" width="24" height="22" fill="#ffffff" fill-opacity="0.85"/>
<text x="8.24" y="38.20" font-family="Liberation Sans" font-weight="normal" font-size="15.4" fill="#464c54" textLength="51.99" lengthAdjust="spacingAndGlyphs" stroke="#464c54" stroke-width="0.2">O:10.25</text>
<text x="68.71" y="38.20" font-family="Liberation Sans" font-weight="normal" font-size="15.4" fill="#464c54" textLength="52.18" lengthAdjust="spacingAndGlyphs" stroke="#464c54" stroke-width="0.2">H:10.34</text>
<text x="130.09" y="38.20" font-family="Liberation Sans" font-weight="normal" font-size="15.4" fill="#464c54" textLength="38.54" lengthAdjust="spacingAndGlyphs" stroke="#464c54" stroke-width="0.2">L:9.51</text>
<text x="177.45" y="38.20" font-family="Liberation Sans" font-weight="normal" font-size="15.4" fill="#464c54" textLength="44.27" lengthAdjust="spacingAndGlyphs" stroke="#464c54" stroke-width="0.2">C:9.55</text>
<text x="230.93" y="38.20" font-family="Liberation Sans" font-weight="normal" font-size="15.4" fill="#464c54" textLength="46.86" lengthAdjust="spacingAndGlyphs" stroke="#464c54" stroke-width="0.2">V:27.8k</text>
<text x="8.62" y="77.80" font-family="Liberation Sans" font-weight="normal" font-size="15" fill="#464c54" textLength="54.15" lengthAdjust="spacingAndGlyphs" stroke="#464c54" stroke-width="0.2">vol undr</text>
<text x="72.57" y="77.80" font-family="Liberation Sans" font-weight="normal" font-size="15" fill="#464c54" textLength="65.03" lengthAdjust="spacingAndGlyphs" stroke="#464c54" stroke-width="0.2">27,810.00</text>
<text x="8.62" y="111.40" font-family="Liberation Sans" font-weight="normal" font-size="15" fill="#464c54" textLength="69.08" lengthAdjust="spacingAndGlyphs" stroke="#464c54" stroke-width="0.2">vol undr-2</text>
<text x="85.87" y="111.40" font-family="Liberation Sans" font-weight="normal" font-size="15" fill="#464c54" textLength="64.82" lengthAdjust="spacingAndGlyphs" stroke="#464c54" stroke-width="0.2">27,810.00</text>
<path d="M13.2,141.4 L17,137.9 L20.8,141.4" fill="none" stroke="#464c54" stroke-width="1.6" stroke-linecap="round" stroke-linejoin="round"/>
</svg>
</body></html>
